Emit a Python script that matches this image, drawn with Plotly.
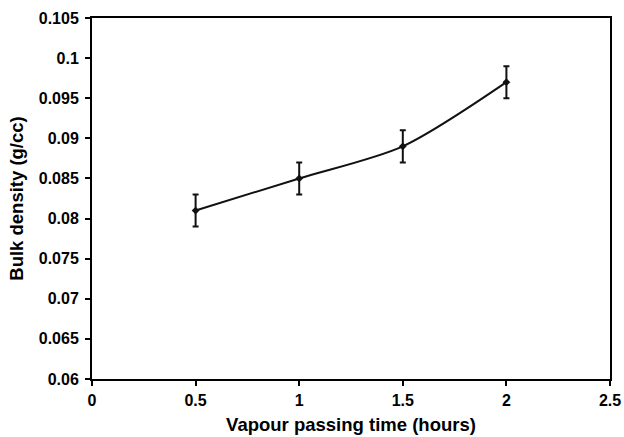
import plotly.graph_objects as go

# Bulk density versus vapour passing time
time_h = [0.5, 1.0, 1.5, 2.0]
bulk_density = [0.081, 0.085, 0.089, 0.097]
error = [0.002, 0.002, 0.002, 0.002]

x_ticks = [0, 0.5, 1, 1.5, 2, 2.5]
x_tick_text = ["0", "0.5", "1", "1.5", "2", "2.5"]
y_ticks = [0.06, 0.065, 0.07, 0.075, 0.08, 0.085, 0.09, 0.095, 0.1, 0.105]
y_tick_text = ["0.06", "0.065", "0.07", "0.075", "0.08", "0.085", "0.09", "0.095", "0.1", "0.105"]

font_family = "Liberation Sans, Arial, sans-serif"

fig = go.Figure()
fig.add_trace(go.Scatter(
    x=time_h,
    y=bulk_density,
    mode="lines+markers",
    line=dict(color="#111111", width=2, shape="spline", smoothing=0.8),
    marker=dict(symbol="diamond", size=6, color="#111111"),
    error_y=dict(type="data", array=error, visible=True,
                 color="#111111", thickness=2, width=3),
    showlegend=False,
))

axis_common = dict(
    ticks="outside",
    ticklen=5,
    tickwidth=1.5,
    tickcolor="black",
    showgrid=False,
    zeroline=False,
    showline=True,
    linecolor="black",
    linewidth=2,
    mirror=True,
    automargin=False,
    tickfont=dict(size=16, family=font_family, weight="bold"),
)

fig.update_layout(
    width=624,
    height=437,
    margin=dict(l=92, r=14, t=18, b=58),
    paper_bgcolor="white",
    plot_bgcolor="white",
    font=dict(family=font_family, color="black"),
    xaxis=dict(
        range=[0, 2.5],
        tickvals=x_ticks,
        ticktext=x_tick_text,
        ticklabelstandoff=1,
        title=dict(text="<b>Vapour passing time (hours)</b>",
                   font=dict(size=18.5, family=font_family), standoff=10),
        **axis_common,
    ),
    yaxis=dict(
        range=[0.06, 0.105],
        tickvals=y_ticks,
        ticktext=y_tick_text,
        ticklabelstandoff=3,
        title=dict(text="<b>Bulk density (g/cc)</b>",
                   font=dict(size=18.5, family=font_family), standoff=10),
        **axis_common,
    ),
)

fig.write_html("out.html")
